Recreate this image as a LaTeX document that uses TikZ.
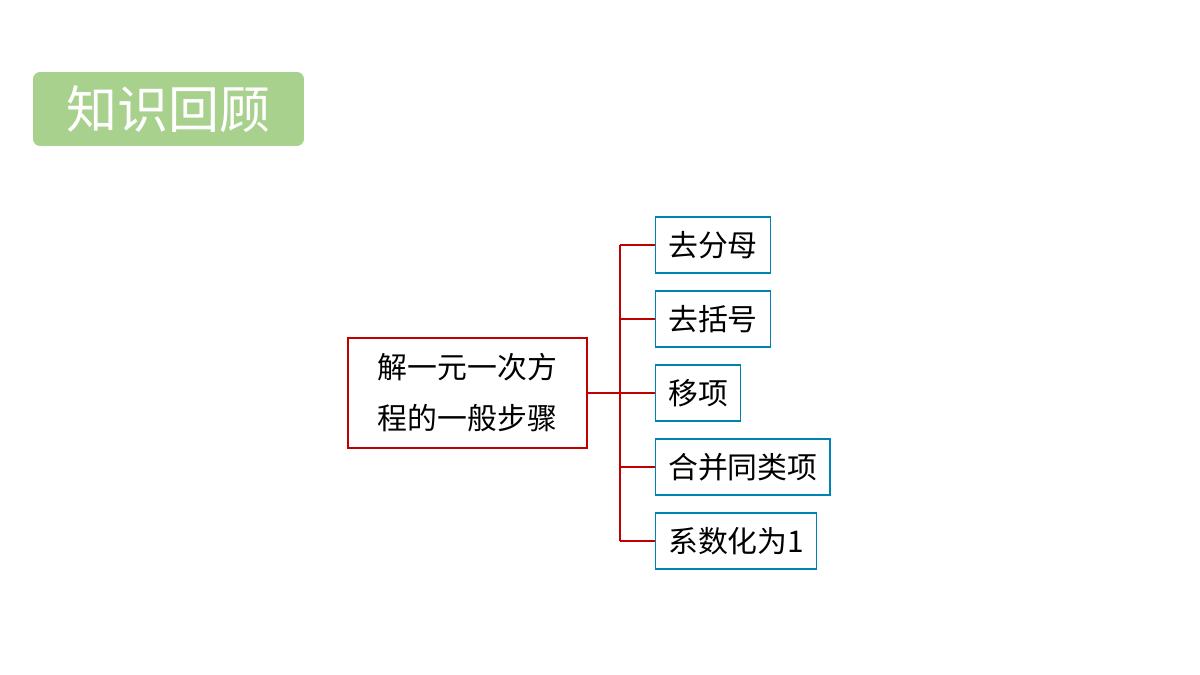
\documentclass[tikz,border=0pt]{standalone}
\usepackage{fontspec}
\setmainfont{Noto Sans CJK SC}
\newfontfamily\cjk{Noto Sans CJK SC}
\usetikzlibrary{positioning}
\definecolor{titlegreen}{RGB}{169,209,142}
\definecolor{mainred}{RGB}{192,0,0}
\definecolor{stepblue}{RGB}{0,130,180}
\begin{document}
\begin{tikzpicture}[
		x=0.02cm, y=-0.02cm,
		title/.style={fill=titlegreen, rounded corners=4pt, minimum width=5.42cm, minimum height=1.48cm, text=white, font=\fontsize{29}{32}\selectfont\cjk},
		mainbox/.style={draw=mainred, thick, minimum width=4.78cm, minimum height=2.2cm, align=left, font=\fontsize{17}{29}\selectfont\cjk},
		stepbox/.style={draw=stepblue, thick, anchor=west, minimum height=1.12cm, inner xsep=0.25cm, font=\fontsize{17}{20}\selectfont\cjk},
		link/.style={draw=mainred, thick}
		]
		\useasboundingbox (0,0) rectangle (1200,675);
		
		\node[title] (head) at (168.5,109) {知识回顾};
		
		\node[mainbox] (solve) at (467.5,393) {解一元一次方\\程的一般步骤};
		\coordinate (trunk) at (620,393);
		
		\foreach \name/\txt/\ypos in {s1/去分母/245, s2/去括号/319, s3/移项/393, s4/合并同类项/467, s5/系数化为1/541}
		\node[stepbox] (\name) at (655,\ypos) {\txt};
		
		\draw[link] (solve.east) -- (trunk);
		\draw[link] (s1.west -| trunk) -- (s5.west -| trunk);
		\foreach \name in {s1,s2,s3,s4,s5} {
			\draw[link] (\name.west -| trunk) -- (\name.west);
		}
\end{tikzpicture}
\end{document}
